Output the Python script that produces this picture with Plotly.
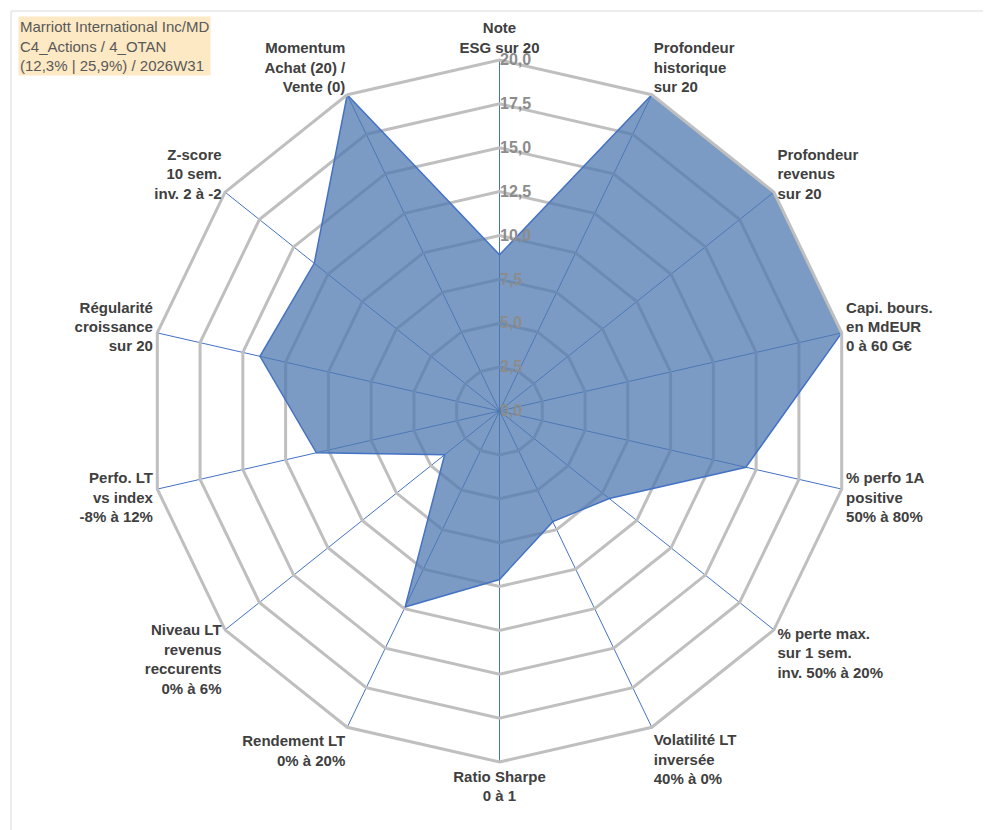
import plotly.graph_objects as go

categories = [
    "Note<br>ESG sur 20",
    "Profondeur<br>historique<br>sur 20",
    "Profondeur<br>revenus<br>sur 20",
    "Capi. bours.<br>en MdEUR<br>0 à 60 G€",
    "% perfo 1A<br>positive<br>50% à 80%",
    "% perte max.<br>sur 1 sem.<br>inv. 50% à 20%",
    "Volatilité LT<br>inversée<br>40% à 0%",
    "Ratio Sharpe<br>0 à 1",
    "Rendement LT<br>0% à 20%",
    "Niveau LT<br>revenus<br>reccurents<br>0% à 6%",
    "Perfo. LT<br>vs index<br>-8% à 12%",
    "Régularité<br>croissance<br>sur 20",
    "Z-score<br>10 sem.<br>inv. 2 à -2",
    "Momentum<br>Achat (20) /<br>Vente (0)",
]
values = [8.9, 20, 20, 20, 14.4, 8.0, 7.0, 9.6, 12.4, 4.0, 10.7, 14.0, 13.5, 20]
radial_ticks = [0, 2.5, 5, 7.5, 10, 12.5, 15, 17.5, 20]

L, R, T, B = 138, 146, 52, 76
pw, ph = 991 - L - R, 830 - T - B

fig = go.Figure()
fig.add_trace(go.Scatterpolar(
    r=values + values[:1],
    theta=categories + categories[:1],
    fill="toself",
    fillcolor="rgba(79,122,176,0.75)",
    line=dict(color="#4472c4", width=1.5),
    mode="lines",
    showlegend=False,
))

fig.update_layout(
    width=991, height=830,
    margin=dict(l=L, r=R, t=T, b=B),
    paper_bgcolor="white",
    font=dict(family="Liberation Sans, Arial", color="#404040"),
    polar=dict(
        bgcolor="white",
        gridshape="linear",
        angularaxis=dict(
            direction="clockwise", rotation=90,
            gridcolor="#4472c4", gridwidth=1,
            linecolor="#bfbfbf", linewidth=3,
            ticks="", tickfont=dict(size=15, color="#404040", weight="bold"),
        ),
        radialaxis=dict(
            range=[0, 20], angle=90, tickangle=90, side="clockwise",
            tickvals=radial_ticks,
            ticktext=[f"{v:.1f}".replace(".", ",") for v in radial_ticks],
            gridcolor="#bfbfbf", gridwidth=3,
            showline=False, ticks="",
            tickfont=dict(size=16, color="#8c8c8c", weight="bold"),
        ),
    ),
    annotations=[dict(
        xref="paper", yref="paper", x=-(L - 10) / pw, y=1 + (T - 8) / ph,
        xanchor="left", yanchor="top",
        text="Marriott International Inc/MD<br>C4_Actions / 4_OTAN<br>(12,3% | 25,9%) / 2026W31",
        showarrow=False, align="left", bgcolor="#fde9c4",
        font=dict(size=15, color="#595959"),
    )],
    shapes=[dict(type="rect", xref="paper", yref="paper",
                 x0=-(L - 3) / pw, x1=1 + (R - 12) / pw,
                 y0=-(B - 3) / ph, y1=1 + (T - 3) / ph,
                 line=dict(color="#d9d9d9", width=1))],
)

fig.write_html("out.html")
